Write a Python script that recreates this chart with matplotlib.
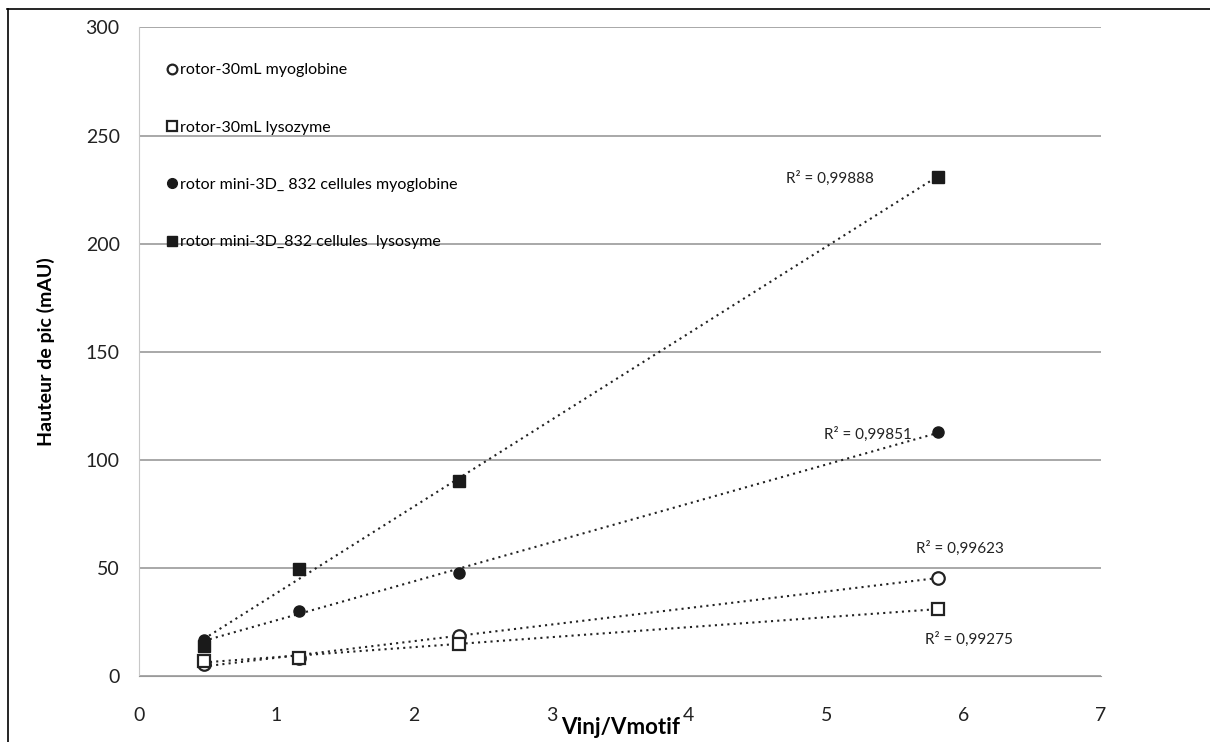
import matplotlib
matplotlib.use("Agg")
import matplotlib.pyplot as plt
from matplotlib.lines import Line2D
import numpy as np

plt.rcParams['font.family'] = ['Lato', 'DejaVu Sans']

# data
x_30ml = [0.47, 1.16, 2.33, 5.81]
myo_30ml = [5.5, 8.5, 18.5, 45.5]
lyso_30ml = [7.0, 8.5, 15.0, 31.0]

x_mini = [0.47, 1.16, 2.33, 5.81]
myo_mini = [16.5, 30.0, 47.5, 113.0]
lyso_mini = [14.0, 49.5, 90.0, 231.0]

labels = ["rotor-30mL myoglobine", "rotor-30mL lysozyme",
          "rotor mini-3D_ 832 cellules myoglobine",
          "rotor mini-3D_832 cellules  lysosyme"]
r2_txt = ["R² = 0,99623", "R² = 0,99275", "R² = 0,99851", "R² = 0,99888"]
r2_pos = [(5.97, 59), (6.04, 17), (5.3, 112), (5.03, 230)]

fig = plt.figure(figsize=(12.1, 7.42), dpi=100)
ax = fig.add_axes([0.115, 0.089, 0.795, 0.874])

series = [
    (x_30ml, myo_30ml, dict(marker='o', mfc='white', mec='#222222', ms=9, mew=1.6)),
    (x_30ml, lyso_30ml, dict(marker='s', mfc='white', mec='#222222', ms=9, mew=1.6)),
    (x_mini, myo_mini, dict(marker='o', mfc='#1a1a1a', mec='#1a1a1a', ms=8)),
    (x_mini, lyso_mini, dict(marker='s', mfc='#1a1a1a', mec='#1a1a1a', ms=8)),
]

for (xs, ys, st), lab, txt, pos in zip(series, labels, r2_txt, r2_pos):
    xs = np.array(xs)
    ys = np.array(ys)
    a, b = np.polyfit(xs, ys, 1)
    xx = np.array([xs.min(), xs.max()])
    ax.plot(xx, a * xx + b, color='#222222', ls=(0, (1, 2)), lw=1.5, zorder=2)
    ax.plot(xs, ys, ls='none', label=lab, zorder=3, **st)
    ax.text(pos[0], pos[1], txt, fontsize=11, ha='center', va='center', color='#222222')

ax.set_xlim(0, 7)
ax.set_ylim(0, 300)
ax.set_yticks(np.arange(0, 301, 50))
ax.set_xticks(np.arange(0, 8, 1))
ax.grid(axis='y', color='#9a9a9a', lw=1.2)
ax.set_axisbelow(True)
for s in ['top', 'right']:
    ax.spines[s].set_visible(False)
ax.spines['left'].set_color('#c8c8c8')
ax.spines['bottom'].set_color('#9a9a9a')
ax.tick_params(axis='both', length=0, labelsize=14, colors='#222222')
ax.tick_params(axis='x', pad=22)
ax.tick_params(axis='y', pad=14)

ax.set_xlabel("Vinj/Vmotif", fontsize=16, fontweight='bold', labelpad=-5)
ax.set_ylabel("Hauteur de pic (mAU)", fontsize=14, fontweight='bold', labelpad=22)

leg = ax.legend(loc='upper left', bbox_to_anchor=(0.02, 0.955), frameon=False,
                fontsize=11.5, labelspacing=2.7, handletextpad=0.05,
                handlelength=0.9, borderaxespad=0)
for h in leg.legend_handles:
    h.set_markersize(7)

# outer frame (top and left only)
fig.add_artist(Line2D([0.006, 1.0], [0.988, 0.988], color='black', lw=1.2))
fig.add_artist(Line2D([0.007, 0.007], [0.0, 0.988], color='black', lw=1.2))

fig.savefig("out.png", dpi=100)
